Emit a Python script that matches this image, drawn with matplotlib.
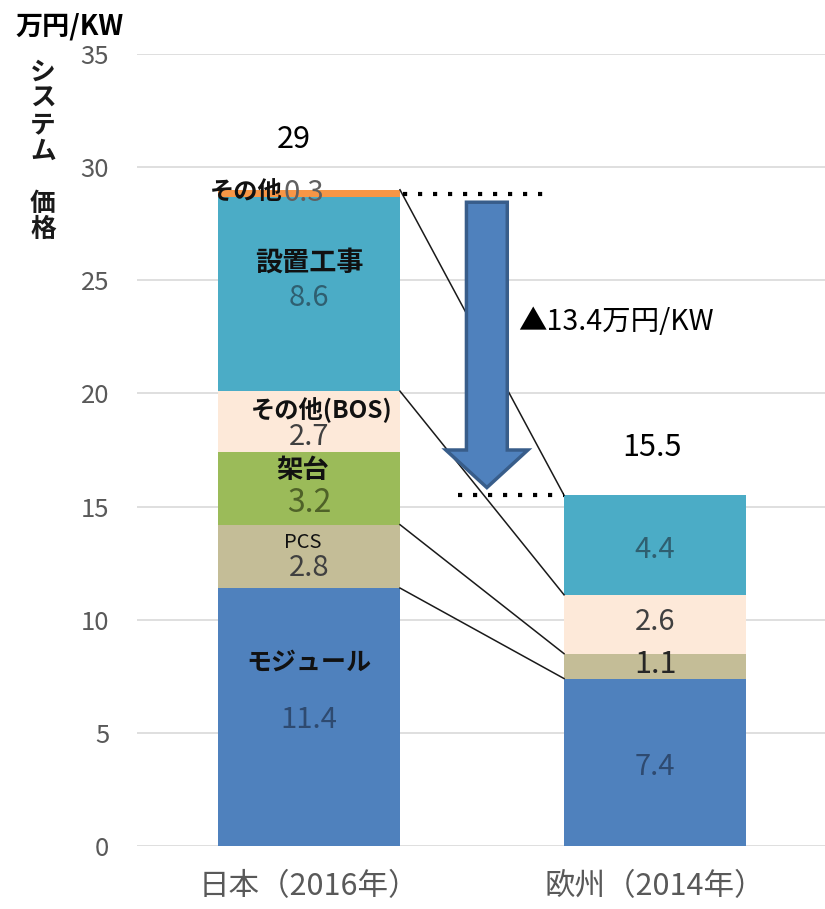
import numpy as np
import matplotlib.pyplot as plt
from matplotlib.patches import Polygon

plt.rcParams['font.family'] = ['Noto Sans CJK JP', 'DejaVu Sans']

# data
regions    = ['日本（2016年）', '欧州（2014年）']
components = ['モジュール', 'PCS', '架台', 'その他(BOS)', '設置工事', 'その他']
japan      = [11.4, 2.8, 3.2, 2.7, 8.6, 0.3]
europe     = [7.4, 1.1, 0.0, 2.6, 4.4, 0.0]
totals     = [29, 15.5]
reduction  = '▲13.4万円/KW'
y_ticks    = [0, 5, 10, 15, 20, 25, 30, 35]

COLORS = ['#4F81BD', '#C4BD97', '#9BBB59', '#FDE9D9', '#4BACC6', '#F79646']
GRAY   = '#595959'
BAR_W  = 0.526

fig = plt.figure(figsize=(8.25, 9.09), dpi=100)
ax = fig.add_axes([0.166, 0.0693, 0.834, 0.8713])

x = np.arange(len(regions))
bottoms = np.zeros(len(regions))
for i, name in enumerate(components):
    vals = np.array([japan[i], europe[i]])
    ax.bar(x, vals, BAR_W, bottom=bottoms, color=COLORS[i], zorder=2)
    bottoms += vals

ax.set_xlim(-0.497, 1.491)
ax.set_ylim(0, 35)
ax.set_yticks(y_ticks)
ax.set_yticklabels([str(t) for t in y_ticks], fontsize=18.5, color=GRAY)
ax.set_xticks(x)
ax.set_xticklabels(regions, fontsize=22, color=GRAY)
ax.tick_params(axis='y', length=0, pad=20)
ax.tick_params(axis='x', length=0, pad=18)
ax.grid(axis='y', color='#D9D9D9', linewidth=1.2, zorder=0)
ax.set_axisbelow(True)
for s in ax.spines.values():
    s.set_visible(False)

# connector lines between matching segments
cj = np.cumsum(japan)
ce = np.cumsum(europe)
x0, x1 = x[0] + BAR_W / 2, x[1] - BAR_W / 2
for k in [0, 1, 3, 5]:
    ax.plot([x0, x1], [cj[k], ce[k]], color='#1A1A1A', linewidth=1.1, zorder=3)

# dotted reference lines
ax.plot([x0 + 0.01, 0.702], [totals[0] - 0.2, totals[0] - 0.2], linestyle=(0, (1, 2.6)),
        color='black', linewidth=3, zorder=3)
ax.plot([0.43, x1], [totals[1], totals[1]], linestyle=(0, (1, 2.6)),
        color='black', linewidth=3, zorder=3)

# block arrow
cx, sw, hw = 0.514, 0.118, 0.237
top, neck, tip = 28.45, 17.5, 15.84
arrow = Polygon([[cx - sw / 2, top], [cx + sw / 2, top], [cx + sw / 2, neck],
                 [cx + hw / 2, neck], [cx, tip], [cx - hw / 2, neck],
                 [cx - sw / 2, neck]], closed=True, facecolor='#4F81BD',
                edgecolor='#385D8A', linewidth=2.5, zorder=4)
ax.add_patch(arrow)
ax.text(0.604, 23.15, reduction, fontsize=20.5, ha='left', va='center', color='black', zorder=5)

# totals
ax.text(-0.043, 31.2, f'{totals[0]:g}', fontsize=22, ha='center', va='center', color='black')
ax.text(x[1] - 0.01, 17.6, f'{totals[1]:g}', fontsize=22, ha='center', va='center', color='black')

# labels inside Japan bar
names = [
    ('モジュール', 0.0, 8.09, 18, 'bold'),
    ('PCS', -0.017, 13.43, 14.5, 'normal'),
    ('架台', -0.017, 16.6, 19, 'bold'),
    ('その他(BOS)', 0.038, 19.27, 17.5, 'bold'),
    ('設置工事', 0.0, 25.76, 19.5, 'bold'),
]
for txt, xx, yy, fs, fw in names:
    ax.text(xx, yy, txt, fontsize=fs, fontweight=fw, ha='center', va='center', color='#111111', zorder=5)

vals_jp = [
    (japan[0], 0.0, 5.57, '#2E4A70', 21),
    (japan[1], 0.0, 12.28, '#404040', 21),
    (japan[2], 0.0, 15.16, '#4F6228', 23),
    (japan[3], 0.0, 18.07, '#404040', 21),
    (japan[4], 0.0, 24.2, '#2F5F70', 21),
]
for v, xx, yy, c, fs in vals_jp:
    ax.text(xx, yy, f'{v:g}', fontsize=fs, ha='center', va='center', color=c, zorder=5)

ax.text(-0.075, 28.86, components[5], fontsize=17.5, fontweight='bold', ha='right', va='center',
        color='#111111', zorder=5)
ax.text(-0.075, 28.86, f'{japan[5]:g}', fontsize=21, ha='left', va='center', color='#606060', zorder=5)

# values inside Europe bar
eu_pos = [(0, 3.49, '#2E4A70'), (1, 8.0, '#262626'), (3, 9.9, '#404040'), (4, 13.08, '#2F5F70')]
for k, yy, c in eu_pos:
    ax.text(x[1], yy, f'{europe[k]:g}', fontsize=22 if k == 1 else 21, ha='center', va='center',
            color=c, zorder=5)

# axis title
fig.text(15 / 825, 1 - 27 / 909, '万円/KW', fontsize=19.5, fontweight='bold', ha='left', va='center')
for j, ch in enumerate('システム 価格'):
    if ch.strip():
        fig.text(43 / 825, 1 - (72 + j * 26.3) / 909, ch, fontsize=18.5, fontweight='bold',
                 ha='center', va='center', color='#1A1A1A')

fig.savefig('out.png', dpi=100)
